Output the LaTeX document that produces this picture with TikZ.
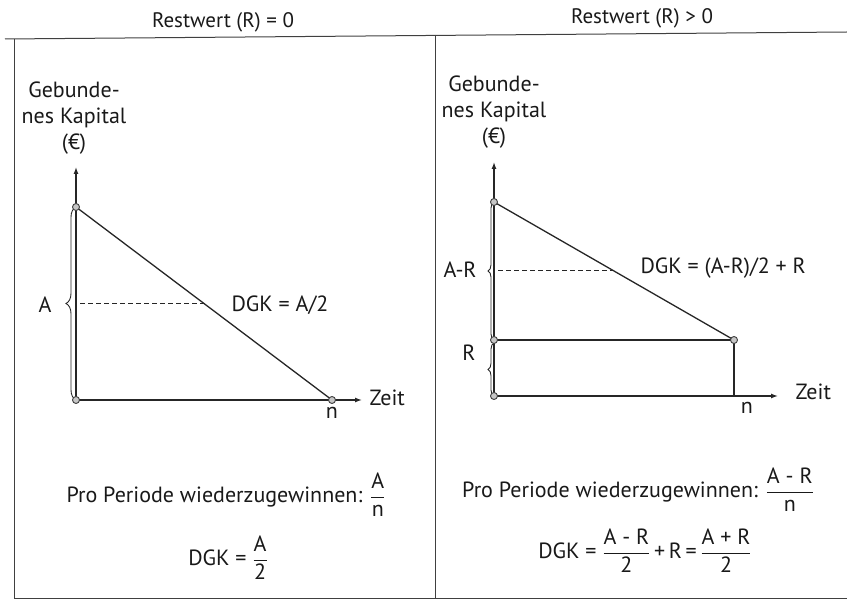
\documentclass[tikz,border=0pt]{standalone}
\usepackage{fontspec}
\setmainfont{PT Sans}
\usetikzlibrary{arrows.meta,decorations.pathreplacing}
\tikzset{
  achse/.style={-{Latex[length=7pt,width=5pt]},line width=1.3pt,draw=black!85},
  linie/.style={line width=1.3pt,draw=black!85},
  strich/.style={dash pattern=on 5pt off 3pt,line width=1pt,draw=black!85},
  punkt/.style={circle,draw=black!75,fill=gray!45,line width=0.9pt,inner sep=0pt,minimum size=7pt},
  klammer/.style={decorate,decoration={brace,amplitude=#1},line width=0.9pt,draw=black!85},
  rahmen/.style={line width=1pt,draw=black!75},
}
\newcommand{\bruch}[2]{$\displaystyle\frac{\mbox{#1}}{\mbox{#2}}$}
\begin{document}
\begin{tikzpicture}[x=1pt,y=-1pt,font=\fontsize{22}{26}\selectfont,text=black!90]
  \useasboundingbox (0,0) rectangle (847,604);
  % Rahmen und Titel
  \draw[rahmen] (5,39) -- (847,32);
  \draw[rahmen] (14,39) -- (14,598) -- (847,598);
  \draw[rahmen] (435,35) -- (435,598);
  \node[font=\fontsize{21}{25}\selectfont] (titelL) at (223,22) {Restwert (R) = 0};
  \node[font=\fontsize{21}{25}\selectfont] (titelR) at (642,18) {Restwert (R) > 0};

  % links: R = 0
  \coordinate (lo) at (76,400);
  \coordinate (la) at (76,207);
  \coordinate (ln) at (332,400);
  \coordinate (ly) at (76,167);
  \coordinate (lx) at (362,400);
  \node[align=center] (lyl) at (74,118) {Gebunde-\\nes Kapital\\(€)};
  \draw[achse] (lo) -- (ly);
  \draw[achse] (lo) -- (lx);
  \draw[linie] (la) -- (ln) coordinate[pos=0.5] (lh);
  \draw[strich] ([xshift=4pt]lh -| lo) -- (lh);
  \draw[klammer=10pt,xshift=-6pt] (lo) -- (la);
  \node (lA) at (45,305) {A};
  \node[anchor=west] (ldgk) at (228,305) {DGK = A/2};
  \node[anchor=west] (lzeit) at (366,398) {Zeit};
  \node (lnl) at (332,413) {n};
  \foreach \p in {lo,la,ln} \node[punkt] at (\p) {};

  % rechts: R > 0
  \coordinate (ro) at (494,396);
  \coordinate (rr) at (494,340);
  \coordinate (ra) at (494,202);
  \coordinate (rc) at (734,340);
  \coordinate (rn) at (734,396);
  \coordinate (ry) at (494,162);
  \coordinate (rx) at (778,396);
  \node[align=center] (ryl) at (494,112) {Gebunde-\\nes Kapital\\(€)};
  \draw[achse] (ro) -- (ry);
  \draw[achse] (ro) -- (rx);
  \draw[linie] (ra) -- (rc) coordinate[pos=0.5] (rh);
  \draw[linie] (rr) -- (rc) -- (rn);
  \draw[strich] ([xshift=4pt]rh -| ro) -- (rh);
  \draw[klammer=6pt,xshift=-6pt] (rr) -- (ra);
  \draw[klammer=6pt,xshift=-6pt] (ro) -- ([yshift=-3pt]rr);
  \node (rAR) at (460,270) {A-R};
  \node (rR) at (469,353) {R};
  \node[anchor=west] (rdgk) at (637,268) {DGK = (A-R)/2 + R};
  \node[anchor=west] (rzeit) at (792,392) {Zeit};
  \node (rnl) at (747,408) {n};
  \foreach \p in {ro,rr,ra,rc} \node[punkt] at (\p) {};

  % Formeln
  \node (lpro) at (226,495) {Pro Periode wiederzugewinnen: \bruch{A}{n}};
  \node (lformel) at (228,558) {DGK = \bruch{A}{2}};
  \node (rpro) at (638,490) {Pro Periode wiederzugewinnen: \bruch{A - R}{n}};
  \node (rformel) at (645,551) {DGK = \bruch{A - R}{2}\,+\,R\,=\,\bruch{A + R}{2}};
\end{tikzpicture}
\end{document}
